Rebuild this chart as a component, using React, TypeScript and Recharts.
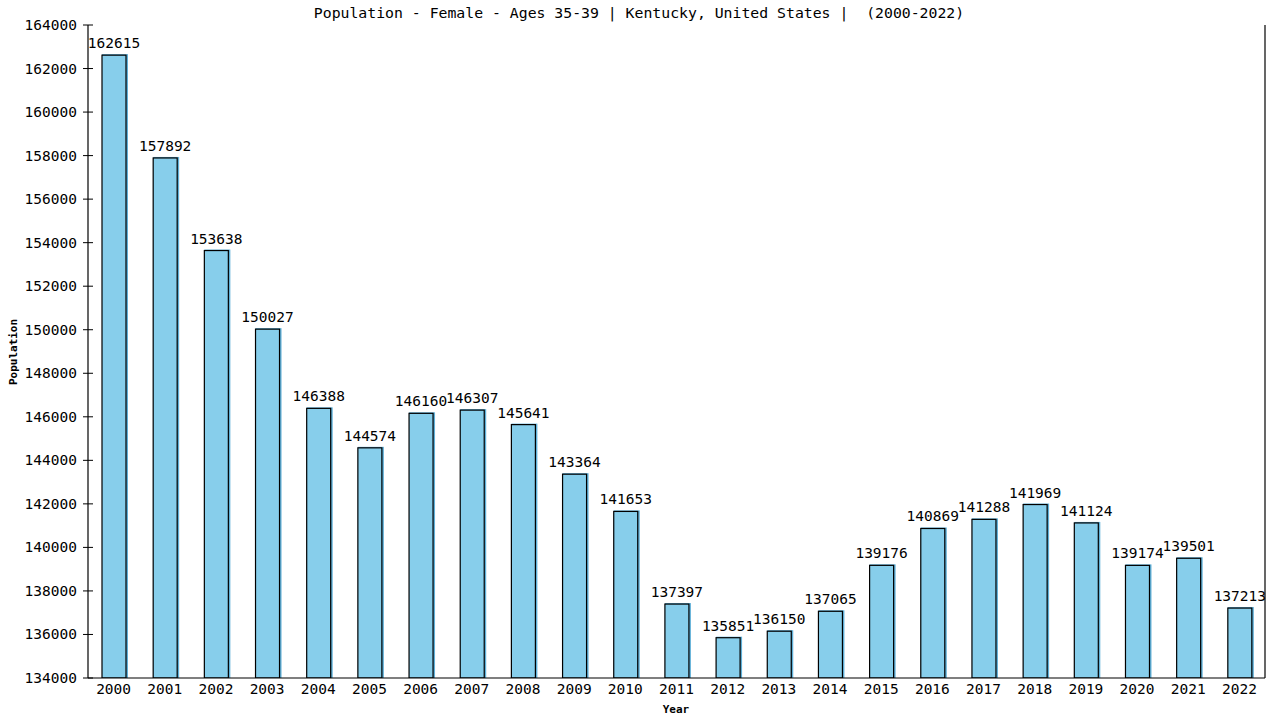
import React from "react";
import { BarChart, Bar, XAxis, YAxis, LabelList } from "recharts";

const years = ["2000","2001","2002","2003","2004","2005","2006","2007","2008","2009","2010","2011","2012","2013","2014","2015","2016","2017","2018","2019","2020","2021","2022"];
const population = [162615,157892,153638,150027,146388,144574,146160,146307,145641,143364,141653,137397,135851,136150,137065,139176,140869,141288,141969,141124,139174,139501,137213];
const yTicks = [134000,136000,138000,140000,142000,144000,146000,148000,150000,152000,154000,156000,158000,160000,162000,164000];

const data = years.map((y, i) => ({ year: y, value: population[i] }));

const FONT = "'DejaVu Sans Mono', monospace";

const BarShape = (props: any) => {
  const { x, y, width, height } = props;
  return (
    <g>
      <rect x={x} y={y - 1} width={width + 2} height={height + 1} fill="#5fb0d8" />
      <rect x={x} y={y} width={width} height={height} fill="#87CEEB" stroke="#000" strokeWidth={1.2} />
    </g>
  );
};

const YTick = (props: any) => {
  const { x, y, payload } = props;
  return (
    <g>
      <line x1={x - 5} x2={x + 5} y1={y} y2={y} stroke="#000" strokeWidth={1} />
      <text x={x - 11} y={y} dy={5} textAnchor="end" style={{ fontFamily: FONT, fontSize: "14.5px" }} fill="#000">
        {payload.value}
      </text>
    </g>
  );
};

export default function App() {
  return (
    <div style={{ position: "absolute", left: 0, top: 0, width: 1280, height: 720, background: "#fff" }}>
      <BarChart width={1280} height={720} data={data} margin={{ top: 25, right: 0, left: 0, bottom: 0 }}>
        <text x={639} y={18} textAnchor="middle" style={{ fontFamily: FONT, fontSize: "14.8px", whiteSpace: "pre" }} fill="#000">
          {"Population - Female - Ages 35-39 | Kentucky, United States |  (2000-2022)"}
        </text>
        <text x={17} y={352} textAnchor="middle" fontFamily={FONT} fontSize={11} fontWeight="bold" fill="#000" transform="rotate(-90 17 352)">
          Population
        </text>
        <text x={676} y={713} textAnchor="middle" fontFamily={FONT} fontSize={11} fontWeight="bold" fill="#000">
          Year
        </text>
        <XAxis
          dataKey="year"
          height={42}
          tickLine={false}
          tickSize={0}
          tickMargin={6}
          axisLine={{ stroke: "#000", strokeWidth: 1.2 }}
          tick={{ fontFamily: FONT, fontSize: 14.5, fill: "#000" }}
          interval={0}
        />
        <YAxis
          yAxisId="l"
          width={88}
          domain={[134000, 164000]}
          ticks={yTicks}
          allowDataOverflow
          tickLine={false}
          tickSize={0}
          tickMargin={0}
          axisLine={{ stroke: "#000", strokeWidth: 1.2 }}
          tick={<YTick />}
          interval={0}
        />
        <YAxis
          yAxisId="r"
          orientation="right"
          width={15}
          domain={[134000, 164000]}
          tick={false}
          tickLine={false}
          axisLine={{ stroke: "#000", strokeWidth: 1.2 }}
        />
        <Bar yAxisId="l" dataKey="value" barSize={24} shape={<BarShape />} isAnimationActive={false}>
          <LabelList dataKey="value" position="top" offset={7} fontFamily={FONT} fontSize={14.5} fill="#000" />
        </Bar>
      </BarChart>
    </div>
  );
}
